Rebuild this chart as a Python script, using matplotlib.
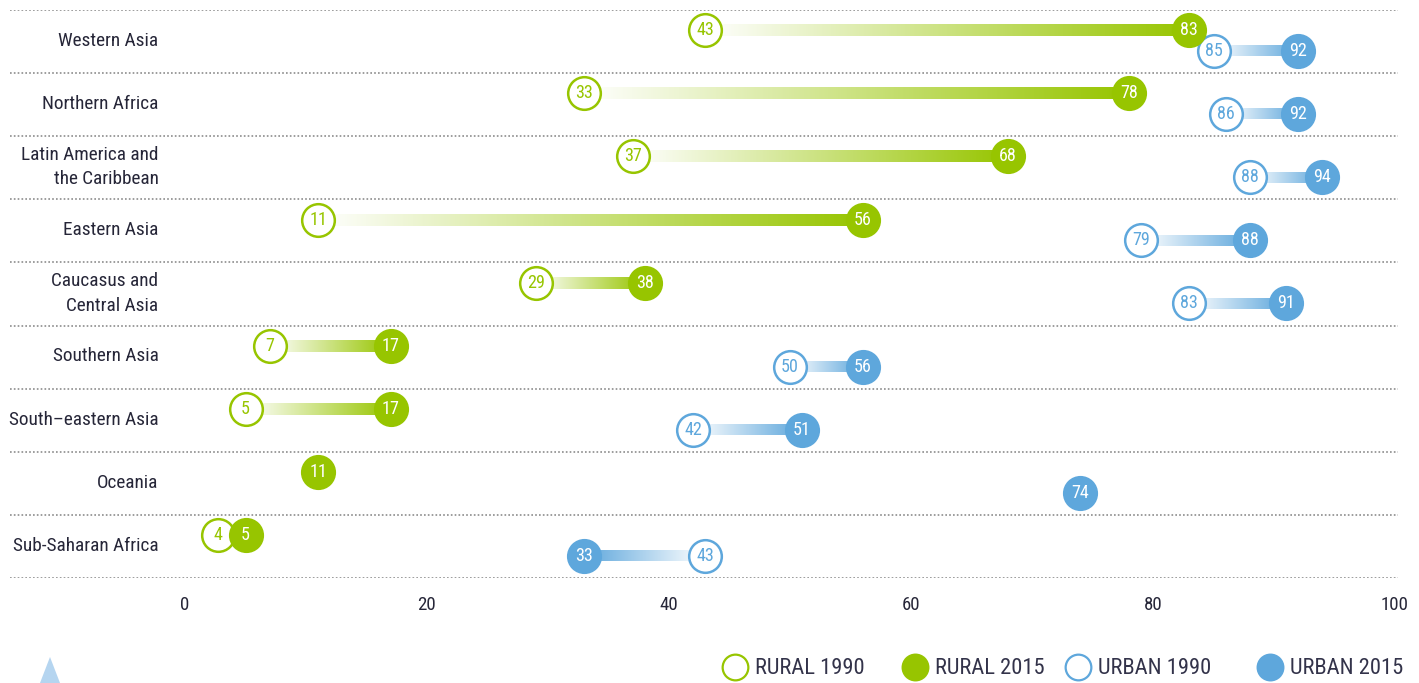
import numpy as np
import matplotlib
matplotlib.use("Agg")
import matplotlib.pyplot as plt
from matplotlib import font_manager
from matplotlib.colors import LinearSegmentedColormap
from matplotlib.patches import Polygon

# data
regions = ["Western Asia", "Northern Africa", "Latin America and\nthe Caribbean",
           "Eastern Asia", "Caucasus and\nCentral Asia", "Southern Asia",
           "South\u2013eastern Asia", "Oceania", "Sub-Saharan Africa"]
rural_1990 = [43, 33, 37, 11, 29, 7, 5, None, 4]
rural_2015 = [83, 78, 68, 56, 38, 17, 17, 11, 5]
urban_1990 = [85, 86, 88, 79, 83, 50, 42, None, 43]
urban_2015 = [92, 92, 94, 88, 91, 56, 51, 74, 33]
xticks = [0, 20, 40, 60, 80, 100]
legend_labels = ["RURAL 1990", "RURAL 2015", "URBAN 1990", "URBAN 2015"]

GREEN = "#97c500"
BLUE = "#5ea7dc"
TXT = "#262638"

# pick a narrow font if one is installed
ttf = font_manager.fontManager.ttflist
names = {f.name for f in ttf}
FONT, STRETCH = "DejaVu Sans", "condensed"
for n in ["Liberation Sans Narrow", "Arial Narrow", "Roboto Condensed",
          "Noto Sans Condensed", "Open Sans Condensed", "Noto Sans SemiCondensed"]:
    if n in names:
        FONT, STRETCH = n, "normal"
        break
else:
    for f in ttf:
        if f.stretch in ("condensed", 300) and "Mono" not in f.name and "Serif" not in f.name:
            FONT, STRETCH = f.name, "condensed"
            if f.name != "DejaVu Sans":
                break
plt.rcParams["font.family"] = [FONT, "DejaVu Sans"]

W, H = 1419, 683
fig = plt.figure(figsize=(W / 100, H / 100), dpi=100)
renderer = fig.canvas.get_renderer()


def fit_size(s, target_px, base=14):
    t = fig.text(0, 0, s, fontsize=base, fontstretch=STRETCH)
    w = t.get_window_extent(renderer).width
    t.remove()
    return base * target_px / w


LABEL_FS = fit_size("Western Asia", 101)
TICK_FS = fit_size("100", 28)
LEG_FS = fit_size("RURAL 1990", 110)
DOT_FS = fit_size("43", 18)

ax = fig.add_axes([10 / W, 1 - 578 / H, (1398 - 10) / W, (578 - 10) / H])

x_left = (10 - 185) / 12.1
x_right = (1398 - 185) / 12.1

# dotted separators
ax.hlines(range(len(regions) + 1), x_left, x_right, colors="#8c8c8c",
          linestyles=(0, (1, 1.3)), linewidth=1.2, zorder=1)


def gradient_cmap(color):
    return LinearSegmentedColormap.from_list("g", ["#ffffff", color])


grad = np.linspace(0.2, 1, 256).reshape(1, -1)


def draw_pair(v0, v1, y, color, half):
    if v0 is not None:
        x0 = v0
        if abs(v1 - v0) < 2.3:  # keep overlapping circles readable
            x0 = v1 - 2.3
        ax.imshow(grad, cmap=gradient_cmap(color), aspect="auto",
                  extent=[x0, v1, y + half, y - half], zorder=2,
                  interpolation="bilinear")
        ax.plot(x0, y, "o", ms=23.5, mfc="white", mec=color, mew=1.8, zorder=3,
                clip_on=False)
        ax.text(x0, y, str(v0), ha="center", va="center", color=color,
                fontsize=DOT_FS, fontstretch=STRETCH, zorder=4)
    ax.plot(v1, y, "o", ms=23.5, mfc=color, mec=color, mew=1.8, zorder=5,
            clip_on=False)
    ax.text(v1, y, str(v1), ha="center", va="center", color="white",
            fontsize=DOT_FS, fontstretch=STRETCH, zorder=6)


for i, name in enumerate(regions):
    yr = i + 0.32
    yu = i + 0.65
    draw_pair(rural_1990[i], rural_2015[i], yr, GREEN, 0.095)
    draw_pair(urban_1990[i], urban_2015[i], yu, BLUE, 0.085)
    ax.text(-2.2, i + 0.49, name, ha="right", va="center", color=TXT,
            fontsize=LABEL_FS, fontstretch=STRETCH, linespacing=1.45)

ax.set_xlim(x_left, x_right)
ax.set_ylim(len(regions), 0)
ax.set_xticks(xticks)
ax.set_yticks([])
ax.tick_params(axis="x", length=0, pad=13, labelsize=TICK_FS, labelcolor=TXT)
for lab in ax.get_xticklabels():
    lab.set_fontstretch(STRETCH)
for s in ax.spines.values():
    s.set_visible(False)

# legend and corner mark in pixel coordinates
lax = fig.add_axes([0, 0, 1, 1], zorder=-1)
lax.set_xlim(0, W)
lax.set_ylim(H, 0)
lax.axis("off")
leg_x = [735, 915, 1078, 1270]
leg_style = [(GREEN, "white"), (GREEN, GREEN), (BLUE, "white"), (BLUE, BLUE)]
for x, (ec, fc), lab in zip(leg_x, leg_style, legend_labels):
    lax.plot(x, 667, "o", ms=18.5, mfc=fc, mec=ec, mew=1.6)
    lax.text(x + 20, 668, lab, ha="left", va="center", color="#33334a",
             fontsize=LEG_FS, fontstretch=STRETCH)
lax.add_patch(Polygon([[40, 683], [50, 657], [60, 683]], closed=True,
                      color="#b5d5f0", lw=0))

fig.savefig("out.png", dpi=100)
